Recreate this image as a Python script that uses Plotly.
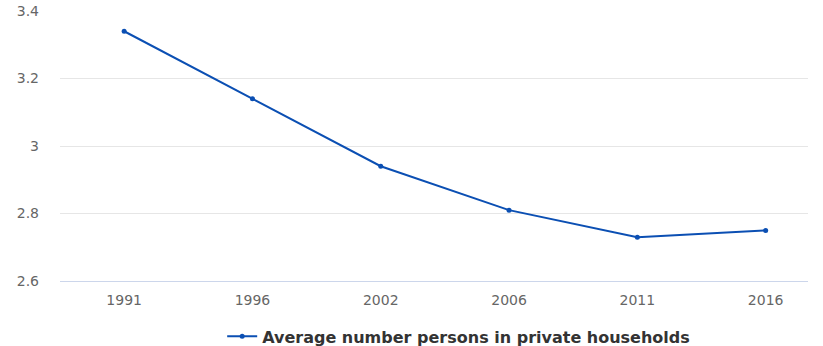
import plotly.graph_objects as go

years = ["1991", "1996", "2002", "2006", "2011", "2016"]
avg_persons = [3.34, 3.14, 2.94, 2.81, 2.73, 2.75]
series_name = "Average number persons in private households"

fig = go.Figure()
fig.add_trace(go.Scatter(
    x=years, y=avg_persons, mode="lines+markers", name=series_name,
    line=dict(color="#0b4fb3", width=2),
    marker=dict(size=5, color="#0b4fb3"),
))

fig.update_layout(
    width=823, height=346,
    margin=dict(l=60, r=15, t=11, b=65, autoexpand=False),
    paper_bgcolor="white", plot_bgcolor="white",
    font=dict(family="DejaVu Sans", size=12, color="#666666"),
    showlegend=True,
    legend=dict(orientation="h", x=0.533, xanchor="center", y=-0.205, yanchor="middle",
                font=dict(family="DejaVu Sans", size=16, color="#333333", weight="bold")),
    xaxis=dict(type="category", range=[-0.5, 5.33], showgrid=False,
               showline=True, linecolor="#ccd6eb", linewidth=1,
               ticks="", ticklabelstandoff=6, tickfont=dict(size=14, color="#666666")),
    yaxis=dict(range=[2.6, 3.4], dtick=0.2, showgrid=True, gridcolor="#e6e6e6",
               zeroline=False, showline=False, ticklabelstandoff=20,
               tickformat="~g", tickfont=dict(size=14, color="#666666")),
)

fig.write_html("out.html")
